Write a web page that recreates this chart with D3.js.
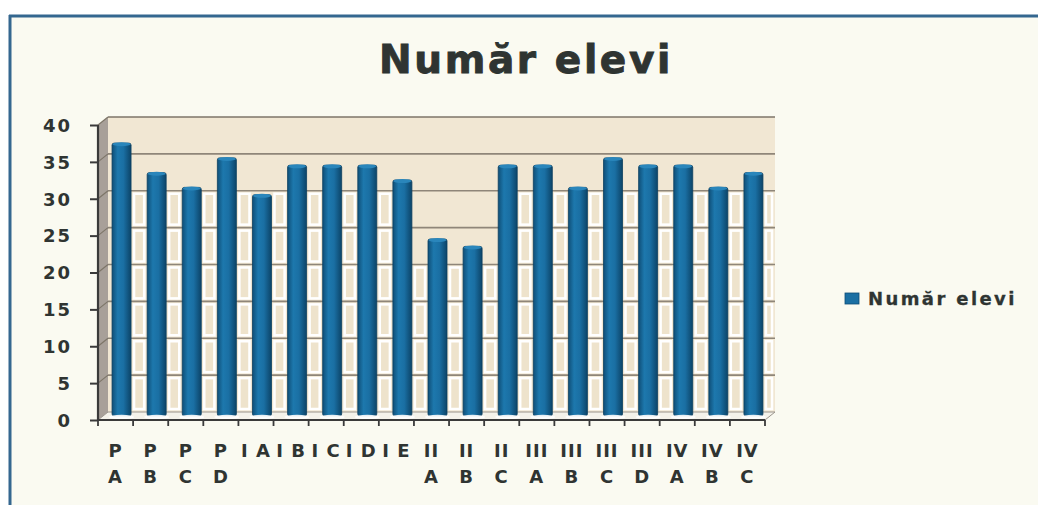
<!DOCTYPE html>
<html><head><meta charset="utf-8">
<script src="https://cdn.jsdelivr.net/npm/d3@7"></script>
<style>
html,body{margin:0;padding:0;background:#ffffff;}
svg{display:block;}
text{font-family:"DejaVu Sans",Verdana,sans-serif;font-weight:bold;fill:#2f3432;}
</style></head>
<body>
<svg id="chart" width="1038" height="505"></svg>
<script>
const categories = ["P A","P B","P C","P D","I A","I B","I C","I D","I E","II A","II B","II C","III A","III B","III C","III D","IV A","IV B","IV C"];
const labelTop = ["P","P","P","P","I A","I B","I C","I D","I E","II","II","II","III","III","III","III","IV","IV","IV"];
const labelBottom = ["A","B","C","D","","","","","","A","B","C","A","B","C","D","A","B","C"];
const values = [37,33,31,35,30,34,34,34,32,24,23,34,34,31,35,34,34,31,33];
const yTicks = [0,5,10,15,20,25,30,35,40];
const seriesName = "Număr elevi";
const titleText = "Număr elevi";

const svg = d3.select("#chart");
const W = 1038, H = 505;

svg.append("rect").attr("x",0).attr("y",0).attr("width",W).attr("height",H).attr("fill","#ffffff");
svg.append("rect").attr("x",10).attr("y",16).attr("width",W-10).attr("height",H-16).attr("fill","#fafaf1");
svg.append("line").attr("x1",9).attr("x2",W).attr("y1",16).attr("y2",16).attr("stroke","#34678f").attr("stroke-width",3);
svg.append("line").attr("x1",10).attr("x2",10).attr("y1",15).attr("y2",H).attr("stroke","#34678f").attr("stroke-width",3);

const x = d3.scaleBand().domain(categories).range([98,765]).paddingInner(0).paddingOuter(0);
const y = d3.scaleLinear().domain([0,40]).range([420,125]);
const dx = 10, dy = -8;

const g = svg.append("g");

const wallX0 = x.range()[0]+dx, wallX1 = x.range()[1]+dx;
g.append("rect").attr("x",wallX0).attr("y",y(40)+dy).attr("width",wallX1-wallX0).attr("height",y(0)-y(40))
  .attr("fill","#f1e7d3");
g.append("polygon")
  .attr("points",[[98,y(0)],[98+dx,y(0)+dy],[98+dx,y(40)+dy],[98,y(40)]].map(p=>p.join(",")).join(" "))
  .attr("fill","#a8a099");
g.append("polygon")
  .attr("points",[[98,y(0)],[98+dx,y(0)+dy],[wallX1,y(0)+dy],[x.range()[1],y(0)]].map(p=>p.join(",")).join(" "))
  .attr("fill","#f4f2ea").attr("stroke","#9a948c").attr("stroke-width",1);

const bw = 19, barOff = 6;
const barX = d => x(d) + x.bandwidth()/2 + barOff - bw/2;
for (let i = 0; i < categories.length; i++) {
  const left = barX(categories[i]) + bw + 2;
  const right = (i < categories.length-1 ? barX(categories[i+1]) : wallX1) - 2;
  const lim = i < categories.length-1 ? Math.min(values[i], values[i+1]) : values[i];
  for (let k = 0; k < yTicks.length-1; k++) {
    const v0 = yTicks[k], v1 = yTicks[k+1];
    if (v1 > lim) break;
    g.append("rect")
      .attr("x",left+1).attr("y",y(v1)+dy+3)
      .attr("width",Math.max(0,right-left-2)).attr("height",y(v0)-y(v1)-6)
      .attr("fill","#eee3cc").attr("stroke","#ffffff").attr("stroke-width",2.5);
  }
}

yTicks.filter(v=>v>0).forEach(v=>{
  g.append("line").attr("x1",wallX0).attr("x2",wallX1).attr("y1",y(v)+dy).attr("y2",y(v)+dy)
    .attr("stroke", v===40 ? "#7d7568" : "#8f8679").attr("stroke-width",1.6);
  g.append("line").attr("x1",98).attr("x2",98+dx).attr("y1",y(v)).attr("y2",y(v)+dy)
    .attr("stroke","#7d7568").attr("stroke-width",1.2);
});

const defs = svg.append("defs");
const grad = defs.append("linearGradient").attr("id","barGrad").attr("x1","0").attr("x2","1").attr("y1","0").attr("y2","0");
grad.append("stop").attr("offset","0").attr("stop-color","#0f4f78");
grad.append("stop").attr("offset","0.3").attr("stop-color","#1d78ad");
grad.append("stop").attr("offset","0.6").attr("stop-color","#1a6fa3");
grad.append("stop").attr("offset","1").attr("stop-color","#0c4468");

const bars = g.selectAll(".bar").data(categories).enter().append("g");
bars.append("rect")
  .attr("x",d=>barX(d))
  .attr("y",(d,i)=>y(values[i])+dy/2)
  .attr("width",bw)
  .attr("height",(d,i)=>y(0)-y(values[i]))
  .attr("rx",2)
  .attr("fill","url(#barGrad)")
  .attr("stroke","#0b3f60").attr("stroke-width",0.8);
bars.append("ellipse")
  .attr("cx",d=>barX(d)+bw/2)
  .attr("cy",(d,i)=>y(values[i])+dy/2+1)
  .attr("rx",bw/2-0.5).attr("ry",2)
  .attr("fill","#2a86bb");
bars.append("ellipse")
  .attr("cx",d=>barX(d)+bw/2)
  .attr("cy",y(0)+dy/2+1)
  .attr("rx",bw/2+3).attr("ry",2.2)
  .attr("fill","#ffffff").attr("opacity",0.9);

const yAxis = d3.axisLeft(y).tickValues(yTicks).tickSize(8).tickPadding(18);
const ya = svg.append("g").attr("transform","translate(98,0)").call(yAxis);
ya.select(".domain").attr("stroke","#3a3a3a").attr("stroke-width",2.2).attr("d","M0,"+y(40)+"V"+y(0));
ya.selectAll(".tick line").attr("stroke","#3a3a3a").attr("stroke-width",2);
ya.selectAll(".tick text").style("font-family","'DejaVu Sans',Verdana,sans-serif").style("font-weight","bold")
  .style("font-size","18px").style("letter-spacing","2px").attr("fill","#2f3432").attr("dy","0.35em");

const xa = svg.append("g").attr("transform","translate(0,"+y(0)+")");
xa.append("line").attr("x1",x.range()[0]).attr("x2",x.range()[1]).attr("y1",0).attr("y2",0)
  .attr("stroke","#3a3a3a").attr("stroke-width",2);
const bounds = categories.map(c=>x(c)).concat([x.range()[1]]);
xa.selectAll(".bt").data(bounds).enter().append("line")
  .attr("x1",d=>d).attr("x2",d=>d).attr("y1",0).attr("y2",6)
  .attr("stroke","#3a3a3a").attr("stroke-width",1.8);
const xl = xa.selectAll(".lab").data(categories).enter().append("g")
  .attr("transform",d=>"translate("+(x(d)+x.bandwidth()/2)+",0)");
xl.append("text").attr("y",37).attr("text-anchor","middle")
  .style("font-size","18px").style("letter-spacing","1px")
  .text((d,i)=>labelTop[i]);
xl.append("text").attr("y",63).attr("text-anchor","middle")
  .style("font-size","18px").style("letter-spacing","1px")
  .text((d,i)=>labelBottom[i]);

svg.append("text").attr("x",526).attr("y",73).attr("text-anchor","middle")
  .style("font-size","39px").style("letter-spacing","2.6px").attr("fill","#2d3431")
  .attr("stroke","#2d3431").attr("stroke-width",0.9)
  .text(titleText);

const lg = svg.append("g").attr("transform","translate(845,293)");
lg.append("rect").attr("x",0).attr("y",0).attr("width",14).attr("height",11).attr("fill","#1a6fa3").attr("stroke","#0e4d75").attr("stroke-width",0.8);
lg.append("text").attr("x",23).attr("y",12).style("font-size","18px").style("letter-spacing","2.4px")
  .attr("fill","#2d3431").attr("stroke","#2d3431").attr("stroke-width",0.3).text(seriesName);
</script>
</body></html>
